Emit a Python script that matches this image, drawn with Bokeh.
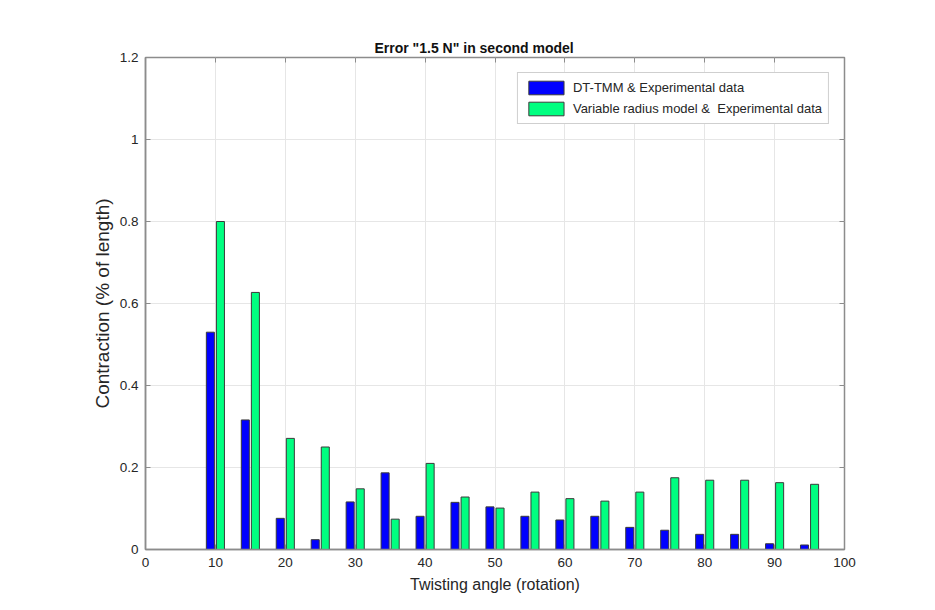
from bokeh.plotting import figure
from bokeh.models import (ColumnDataSource, Legend, LegendItem, LinearAxis, FixedTicker, Range1d)
from bokeh.transform import dodge
from bokeh.embed import file_html
from bokeh.resources import INLINE

# ---- data ----
angles = [5, 10, 15, 20, 25, 30, 35, 40, 45, 50, 55, 60, 65, 70, 75, 80, 85, 90, 95]
dt_tmm = [0.0, 0.530, 0.316, 0.076, 0.024, 0.116, 0.187, 0.081, 0.115, 0.104,
          0.081, 0.072, 0.081, 0.054, 0.047, 0.037, 0.037, 0.014, 0.011]
variable_radius = [0.0, 0.800, 0.627, 0.271, 0.250, 0.148, 0.074, 0.210, 0.128, 0.101,
                   0.140, 0.124, 0.118, 0.140, 0.175, 0.169, 0.169, 0.163, 0.159]
x_ticks = [0, 10, 20, 30, 40, 50, 60, 70, 80, 90, 100]
y_ticks = [0, 0.2, 0.4, 0.6, 0.8, 1.0, 1.2]
y_tick_labels = ["0", "0.2", "0.4", "0.6", "0.8", "1", "1.2"]
series_names = ["DT-TMM & Experimental data", "Variable radius model &  Experimental data"]
title_text = 'Error "1.5 N" in second model'
x_label = "Twisting angle (rotation)"
y_label = "Contraction (% of length)"

src = ColumnDataSource(dict(angle=angles, dt=dt_tmm, vr=variable_radius))

FONT = "Liberation Sans"
TXT = "#262626"
AX = "#8c8c8c"

p = figure(width=935, height=610, output_backend="svg", toolbar_location=None,
           x_range=Range1d(0, 100), y_range=Range1d(0, 1.2),
           min_border_left=145, min_border_right=91, min_border_top=57, min_border_bottom=61,
           background_fill_color="white", border_fill_color="white")

p.title.text = title_text
p.title.align = "left"
p.title.offset = 229
p.title.text_font = FONT
p.title.text_font_size = "14px"
p.title.text_font_style = "bold"
p.title.text_color = "#111111"
p.title.standoff = 4

r_blue = p.vbar(x=dodge("angle", -0.72, range=p.x_range), top="dt", width=1.15, bottom=0,
                source=src, fill_color="#0000ff", line_color="#3a3a3a", line_width=1)
r_green = p.vbar(x=dodge("angle", 0.72, range=p.x_range), top="vr", width=1.15, bottom=0,
                 source=src, fill_color="#00ff80", line_color="#3a3a3a", line_width=1)

p.outline_line_color = AX
p.outline_line_width = 1.5

for ax in (p.xaxis[0], p.yaxis[0]):
    ax.axis_line_color = AX
    ax.axis_line_width = 1.5
    ax.major_tick_line_color = AX
    ax.major_tick_in = 5
    ax.major_tick_out = 0
    ax.minor_tick_line_color = None
    ax.major_label_text_font = FONT
    ax.major_label_text_font_size = "13.5px"
    ax.major_label_text_color = TXT
    ax.axis_label_text_font = FONT
    ax.axis_label_text_font_style = "normal"
    ax.axis_label_text_color = TXT

p.xaxis[0].ticker = FixedTicker(ticks=x_ticks)
p.yaxis[0].ticker = FixedTicker(ticks=y_ticks)
p.yaxis[0].major_label_overrides = {t: l for t, l in zip(y_ticks, y_tick_labels)}
p.xaxis[0].axis_label = x_label
p.yaxis[0].axis_label = y_label
p.xaxis[0].axis_label_text_font_size = "16px"
p.yaxis[0].axis_label_text_font_size = "19px"
p.xaxis[0].major_label_standoff = 8
p.xaxis[0].axis_label_standoff = 6
p.yaxis[0].major_label_standoff = 7
p.yaxis[0].axis_label_standoff = 4

# inward ticks on the top and right edges (MATLAB "box on"), without labels
for loc, ticks in (("above", x_ticks), ("right", y_ticks)):
    a = LinearAxis(ticker=FixedTicker(ticks=ticks), axis_line_color=None,
                   major_tick_line_color=AX, major_tick_in=5, major_tick_out=0,
                   minor_tick_line_color=None, major_label_text_color=None,
                   major_label_text_font_size="1px", major_label_standoff=0)
    p.add_layout(a, loc)

p.xgrid.ticker = FixedTicker(ticks=x_ticks)
p.ygrid.ticker = FixedTicker(ticks=y_ticks)
p.grid.grid_line_color = "#e6e6e6"
p.grid.grid_line_width = 1

legend = Legend(items=[LegendItem(label=series_names[0], renderers=[r_blue]),
                       LegendItem(label=series_names[1], renderers=[r_green])],
                location="top_right", margin=15, padding=6, spacing=4,
                glyph_width=44, glyph_height=17, label_standoff=5,
                label_text_font=FONT, label_text_font_size="13px", label_text_color=TXT,
                label_height=17, border_line_color="#a0a0a0", border_line_width=1,
                background_fill_color="white", background_fill_alpha=1)
p.add_layout(legend, "center")

open("out.html", "w").write(file_html(p, INLINE))
